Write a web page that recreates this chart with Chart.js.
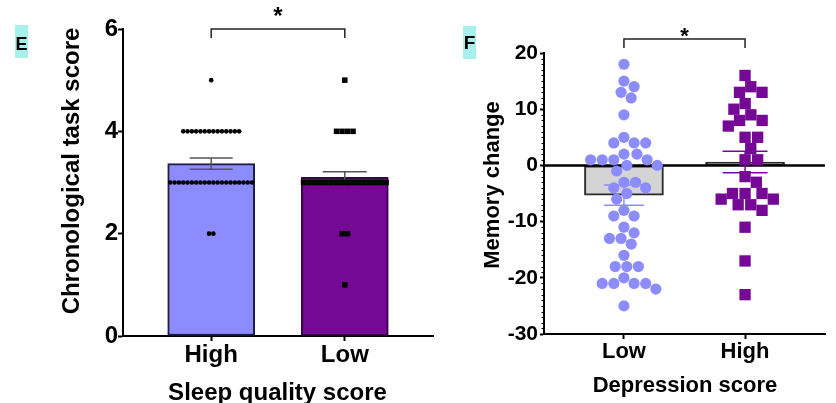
<!DOCTYPE html>
<html><head><meta charset="utf-8">
<script src="https://cdn.jsdelivr.net/npm/chart.js@4.4.1/dist/chart.umd.min.js"></script>
<style>
html,body{margin:0;padding:0;background:#fff;width:836px;height:403px;overflow:hidden;}
canvas{position:absolute;top:0;}
#cE{left:0;} #cF{left:440px;}
</style></head><body>
<canvas id="cE" width="440" height="403"></canvas>
<canvas id="cF" width="396" height="403"></canvas>
<script>
const FONT = '"Liberation Sans", Arial, Helvetica, sans-serif';

// ---------- Panel E data ----------
const categoriesE = ['High', 'Low'];
const meansE = [3.37, 3.1];
const semE = [0.11, 0.11];
const highSleepScores = [5,
  4, 4, 4, 4, 4, 4, 4, 4, 4, 4, 4, 4, 4, 4,
  3, 3, 3, 3, 3, 3, 3, 3, 3, 3, 3, 3, 3, 3, 3, 3, 3, 3, 3, 3,
  2, 2];
const lowSleepScores = [5,
  4, 4, 4, 4,
  3, 3, 3, 3, 3, 3, 3, 3, 3, 3, 3, 3, 3, 3, 3, 3,
  2, 2,
  1];
const yTicksE = [0, 2, 4, 6];

// ---------- Panel F data ----------
const categoriesF = ['Low', 'High'];
const meansF = [-5.3, 0.6];
const semF = [1.8, 1.9];
const lowDepression = [18, 15, 14, 13, 12, 9, 5, 4, 4, 4, 2, 2, 1, 1, 1, 1, 0, 0, -1, -3, -3, -4, -4, -5, -6, -8,
  -9, -9, -11, -12, -13, -13, -14, -16, -18, -18, -18, -20, -21, -21, -21, -21, -22, -25];
const highDepression = [16, 14, 13, 13, 11, 10, 9, 8, 8, 7, 5, 5, 3, 1, 1, -2, -3, -5, -5, -5, -6, -6, -7, -7, -8,
  -11, -17, -23];
const yTicksF = [-30, -20, -10, 0, 10, 20];

// ---------- panel settings (layout / style) ----------
const panelE = {
  categories: categoriesE, means: meansE, sem: semE,
  groups: [highSleepScores, lowSleepScores],
  yMin: 0, yMax: 6, yTicks: yTicksE,
  area: {left: 123, top: 29, right: 433, bottom: 336}, W: 440, H: 403,
  barColors: ['#8c8cff', '#760896'], barBorders: ['#1e1e46', '#3c0050'], barThickness: 87, barBorderWidth: 2,
  pointColors: ['#000000', '#000000'], pointStyles: ['circle', 'rect'], pointRadius: [2.3, 3.9],
  mode: 'rows', spacing: [4.3, 5.5],
  errColors: ['#555555', '#555555'], capW: [43, 44], errWidth: 1.5,
  tickFontY: 24, tickFontX: 24, yTickLen: 5, yTickPad: 0, xTickLen: 5, xTickPad: 0,
  yTitle: {text: 'Chronological task score', x: 79, y: 171, size: 24},
  xTitle: {text: 'Sleep quality score', x: 277.5, y: 400, size: 24},
  letter: {text: 'E', box: [15, 25, 13, 33], x: 21.5, y: 50, size: 18},
  bracket: {top: 29, bottom: 38, starY: 24, starSize: 24},
  zeroLine: false, minorStep: 0
};
const panelF = {
  categories: categoriesF, means: meansF, sem: semF,
  groups: [lowDepression, highDepression],
  yMin: -30, yMax: 20, yTicks: yTicksF,
  area: {left: 104, top: 53, right: 385, bottom: 334}, W: 396, H: 403,
  barColors: ['#d4d4d4', '#5a5a5a'], barBorders: ['#2a2a2a', '#2a2a2a'], barThickness: 79, barBorderWidth: 2,
  pointColors: ['#8c8cff', '#760896'], pointStyles: ['circle', 'rect'], pointRadius: [5.6, 8],
  mode: 'swarm', spacing: [11.6, 12.6],
  errColors: ['#8c8cff', '#760896'], capW: [40, 45], errWidth: 1.5,
  tickFontY: 21, tickFontX: 22, yTickLen: 4, yTickPad: 2, xTickLen: 5, xTickPad: 0,
  yTitle: {text: 'Memory change', x: 59, y: 185, size: 22},
  xTitle: {text: 'Depression score', x: 245, y: 392, size: 22},
  letter: {text: 'F', box: [23, 26, 13, 33], x: 29.5, y: 49, size: 19},
  bracket: {top: 39, bottom: 48, starY: 43, starSize: 22},
  zeroLine: true, minorStep: 1
};

// ---------- layout helpers ----------
function rowOffsets(vals, spacing) {
  const counts = {}, seen = {};
  vals.forEach(v => counts[v] = (counts[v] || 0) + 1);
  return vals.map(v => {
    const k = seen[v] = (seen[v] === undefined ? 0 : seen[v] + 1);
    return (k - (counts[v] - 1) / 2) * spacing;
  });
}
function swarmOffsets(vals, yScale, D) {
  const order = vals.map((v, i) => i).sort((a, b) => vals[b] - vals[a] || a - b);
  const placed = [], off = new Array(vals.length);
  for (const i of order) {
    const py = yScale.getPixelForValue(vals[i]);
    const near = placed.filter(p => Math.abs(p.y - py) < D);
    const cands = [0];
    near.forEach(p => {
      const dx = Math.sqrt(D * D - (p.y - py) * (p.y - py));
      cands.push(p.x - dx, p.x + dx);
    });
    cands.sort((a, b) => Math.abs(a) - Math.abs(b) || b - a);
    const x = cands.find(c => near.every(p => (p.x - c) ** 2 + (p.y - py) ** 2 >= D * D - 0.05));
    placed.push({x, y: py});
    off[i] = x;
  }
  return off;
}

function font(size) { return 'bold ' + size + 'px ' + FONT; }

function makePlugin(P) {
  return {
    id: 'panelPlugin',
    afterDatasetDraw(chart, args) {
      if (args.index !== 0) return;
      const c = chart.ctx, xs = chart.scales.x, ys = chart.scales.y, a = chart.chartArea;
      if (P.zeroLine) {
        const y0 = ys.getPixelForValue(0);
        c.save(); c.strokeStyle = '#000'; c.lineWidth = 2.5;
        c.beginPath(); c.moveTo(a.left, y0); c.lineTo(a.right, y0); c.stroke(); c.restore();
      }
      P.means.forEach((m, i) => {
        const px = xs.getPixelForValue(i + 1);
        const yt = ys.getPixelForValue(m + P.sem[i]), yb = ys.getPixelForValue(m - P.sem[i]);
        const hw = P.capW[i] / 2;
        c.save(); c.strokeStyle = P.errColors[i]; c.lineWidth = P.errWidth;
        c.beginPath();
        c.moveTo(px, yt); c.lineTo(px, yb);
        c.moveTo(px - hw, yt); c.lineTo(px + hw, yt);
        c.moveTo(px - hw, yb); c.lineTo(px + hw, yb);
        c.stroke(); c.restore();
      });
    },
    afterDraw(chart) {
      const c = chart.ctx, xs = chart.scales.x, ys = chart.scales.y, a = chart.chartArea;
      c.save();
      c.fillStyle = '#000';
      if (P.minorStep) {
        c.strokeStyle = '#000'; c.lineWidth = 1;
        c.beginPath();
        for (let v = P.yMin; v <= P.yMax; v += P.minorStep) {
          if (P.yTicks.includes(v)) continue;
          const y = Math.round(ys.getPixelForValue(v)) + 0.5;
          c.moveTo(a.left - 2.5, y); c.lineTo(a.left, y);
        }
        c.stroke();
      }
      c.save();
      c.translate(P.yTitle.x, P.yTitle.y); c.rotate(-Math.PI / 2);
      c.font = font(P.yTitle.size); c.textAlign = 'center'; c.textBaseline = 'alphabetic';
      c.fillText(P.yTitle.text, 0, 0);
      c.restore();
      c.font = font(P.xTitle.size); c.textAlign = 'center'; c.textBaseline = 'alphabetic';
      c.fillText(P.xTitle.text, P.xTitle.x, P.xTitle.y);
      const b = P.letter.box;
      c.fillStyle = '#a8f0ec'; c.fillRect(b[0], b[1], b[2], b[3]);
      c.fillStyle = '#000'; c.font = font(P.letter.size);
      c.fillText(P.letter.text, P.letter.x, P.letter.y);
      const x1 = xs.getPixelForValue(1), x2 = xs.getPixelForValue(2);
      c.strokeStyle = '#222'; c.lineWidth = 1.5;
      c.beginPath();
      c.moveTo(x1, P.bracket.bottom); c.lineTo(x1, P.bracket.top); c.lineTo(x2, P.bracket.top); c.lineTo(x2, P.bracket.bottom);
      c.stroke();
      c.font = font(P.bracket.starSize);
      c.fillText('*', (x1 + x2) / 2, P.bracket.starY);
      c.restore();
    }
  };
}

function makePanel(id, P) {
  const datasets = [{
    type: 'bar', order: 3,
    data: P.means.map((m, i) => ({x: i + 1, y: m})),
    backgroundColor: P.barColors, borderColor: P.barBorders, borderWidth: P.barBorderWidth,
    borderSkipped: false, barThickness: P.barThickness
  }];
  P.groups.forEach((vals, gi) => datasets.push({
    type: 'scatter', order: 1 + gi,
    data: vals.map(v => ({x: gi + 1, y: v})),
    backgroundColor: P.pointColors[gi], borderWidth: 0,
    pointStyle: P.pointStyles[gi], pointRadius: P.pointRadius[gi], pointHoverRadius: P.pointRadius[gi],
    showLine: false
  }));
  const chart = new Chart(document.getElementById(id), {
    type: 'bar',
    data: {datasets},
    options: {
      responsive: false, animation: false, devicePixelRatio: 1,
      layout: {padding: {left: 0, top: P.area.top, right: P.W - P.area.right, bottom: 0}},
      plugins: {legend: {display: false}, tooltip: {enabled: false}, title: {display: false}},
      scales: {
        x: {
          type: 'linear', min: 0.34, max: 2.66, offset: false,
          afterBuildTicks: s => { s.ticks = P.categories.map((_, i) => ({value: i + 1})); },
          afterFit: s => { s.height = P.H - P.area.bottom; },
          ticks: {
            callback: v => P.categories[v - 1] || '',
            color: '#000', font: {family: FONT, size: P.tickFontX, weight: 'bold'},
            padding: P.xTickPad, maxRotation: 0, autoSkip: false
          },
          grid: {display: true, drawOnChartArea: false, drawTicks: true, tickLength: P.xTickLen,
            tickColor: '#000', tickWidth: 2, offset: false},
          border: {display: true, color: '#000', width: 2}
        },
        y: {
          type: 'linear', min: P.yMin, max: P.yMax,
          afterBuildTicks: s => { s.ticks = P.yTicks.map(v => ({value: v})); },
          afterFit: s => { s.width = P.area.left; },
          ticks: {
            color: '#000', font: {family: FONT, size: P.tickFontY, weight: 'bold'},
            padding: P.yTickPad, autoSkip: false
          },
          grid: {display: true, drawOnChartArea: false, drawTicks: true, tickLength: P.yTickLen,
            tickColor: '#000', tickWidth: 2},
          border: {display: true, color: '#000', width: 2}
        }
      }
    },
    plugins: [makePlugin(P)]
  });
  const xs = chart.scales.x, ys = chart.scales.y;
  const ppu = xs.getPixelForValue(2) - xs.getPixelForValue(1);
  P.groups.forEach((vals, gi) => {
    const offs = P.mode === 'rows' ? rowOffsets(vals, P.spacing[gi]) : swarmOffsets(vals, ys, P.spacing[gi]);
    chart.data.datasets[gi + 1].data = vals.map((v, k) => ({x: gi + 1 + offs[k] / ppu, y: v}));
  });
  chart.update('none');
  return chart;
}

makePanel('cE', panelE);
makePanel('cF', panelF);
</script>
</body></html>
